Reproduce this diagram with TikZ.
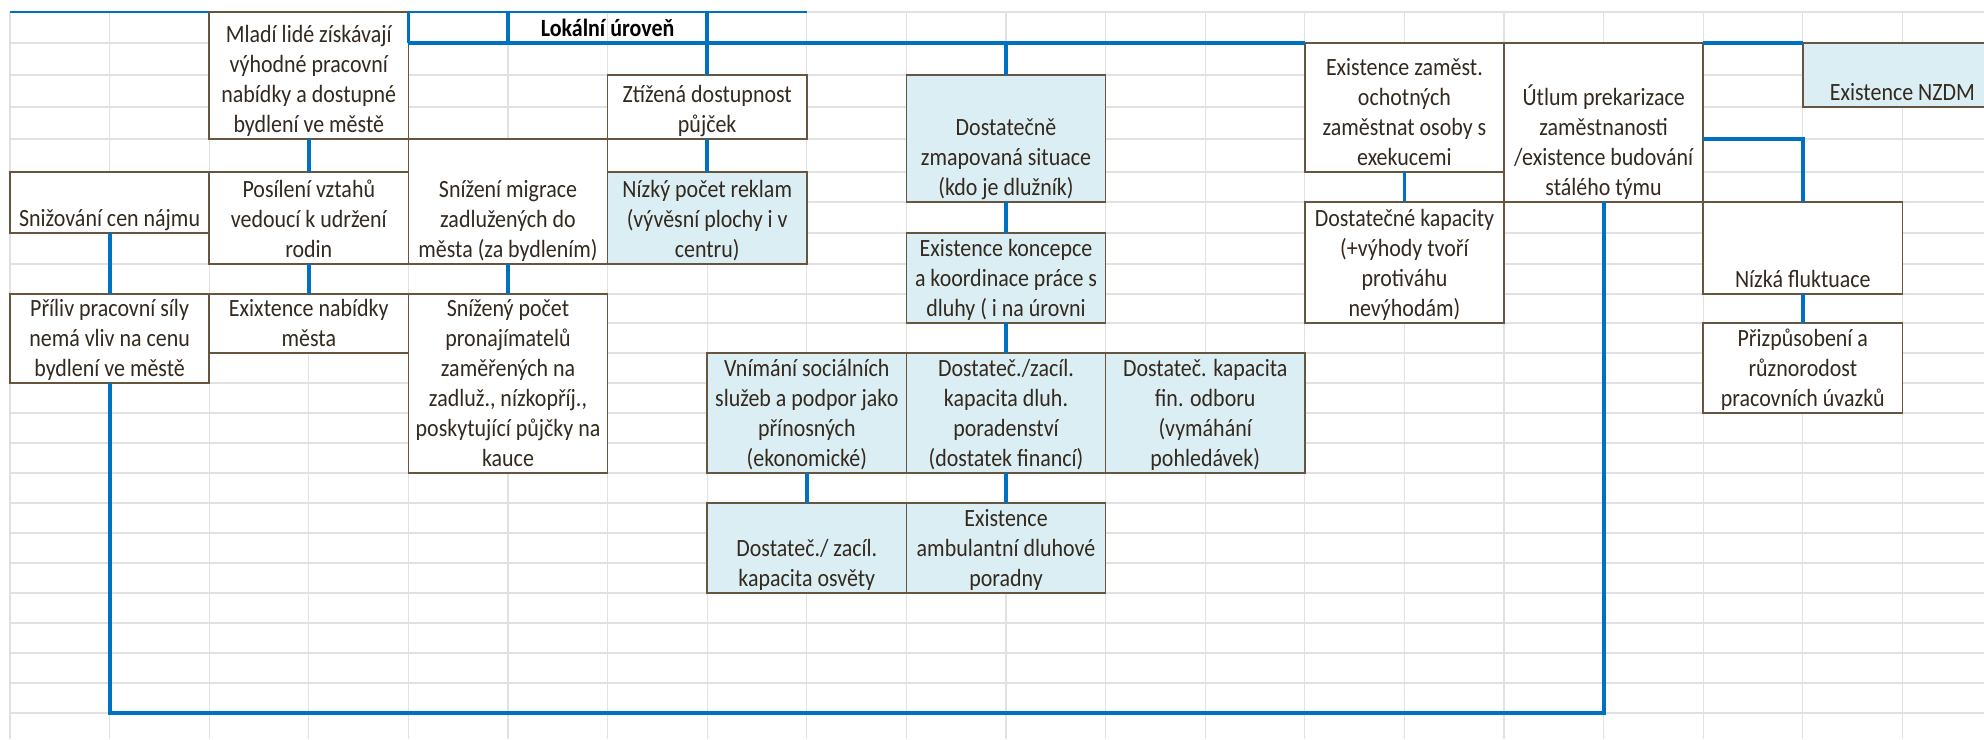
\documentclass[tikz,border=0pt]{standalone}
\usepackage{fontspec}
\setmainfont{Carlito}[FakeStretch=0.885]
\usetikzlibrary{fit}
\definecolor{lblue}{HTML}{DAEEF3}
\definecolor{bordc}{HTML}{66563F}
\definecolor{connc}{HTML}{0070C0}
\definecolor{gridc}{HTML}{E1E1E1}
\definecolor{txtc}{HTML}{33291F}
\newcommand\lastline{\rule[-3pt]{0pt}{0pt}}
\begin{document}
\begin{tikzpicture}[x=0.5pt,y=-0.5pt,
  cellbox/.style={draw=bordc, line width=0.75pt, fill=white, inner sep=0pt, outer sep=0pt},
  bluebox/.style={cellbox, fill=lblue},
  txt/.style={font=\fontsize{12.4}{15}\selectfont, text=txtc, align=center, inner sep=0pt, anchor=south},
  conn/.style={draw=connc, line width=1.9pt, line join=miter},
  thinconn/.style={draw=connc, line width=1.2pt},
  gridline/.style={draw=gridc, line width=0.6pt}]
\useasboundingbox (0,0) rectangle (1984,739);
\clip (0,0) rectangle (1984,739);
\fill[white] (0,0) rectangle (1984,739);
\foreach \c in {0,...,20}{
  \foreach \r [count=\i from 0] in {12,43,75,107,139,172,202,233,264,294,323,353,383,413,443,473,503,533,563,593,623,653,683,713}{
    \coordinate (g-\c-\i) at ({10+99.6*\c},\r);
  }
}
% grid
\foreach \c in {0,...,19} \draw[gridline] ({10+99.6*\c},12) -- ({10+99.6*\c},739);
\foreach \r in {12,43,75,107,139,172,202,233,264,294,323,353,383,413,443,473,503,533,563,593,623,653,683,713}
  \draw[gridline] (10,\r) -- (1984,\r);

% boxes
\node[cellbox, fit=(g-2-0)(g-4-4)] (mladi) {};
\node[cellbox, fit=(g-6-2)(g-8-4)] (ztizena) {};
\node[cellbox, fit=(g-0-5)(g-2-7)] (snizovani) {};
\node[cellbox, fit=(g-2-5)(g-4-8)] (posileni) {};
\node[cellbox, fit=(g-4-4)(g-6-8)] (migrace) {};
\node[bluebox, fit=(g-6-5)(g-8-8)] (reklam) {};
\node[cellbox, fit=(g-0-9)(g-2-12)] (priliv) {};
\node[cellbox, fit=(g-2-9)(g-4-11)] (exixtence) {};
\node[cellbox, fit=(g-4-9)(g-6-15)] (snizeny) {};
\node[bluebox, fit=(g-9-2)(g-11-6)] (mapovana) {};
\node[bluebox, fit=(g-9-7)(g-11-10)] (koncepce) {};
\node[bluebox, fit=(g-7-11)(g-9-15)] (vnimani) {};
\node[bluebox, fit=(g-9-11)(g-11-15)] (poradenstvi) {};
\node[bluebox, fit=(g-11-11)(g-13-15)] (odbor) {};
\node[bluebox, fit=(g-7-16)(g-9-19)] (osveta) {};
\node[bluebox, fit=(g-9-16)(g-11-19)] (ambulantni) {};
\node[cellbox, fit=(g-13-1)(g-15-5)] (zamest) {};
\node[cellbox, fit=(g-13-6)(g-15-10)] (kapacity) {};
\node[cellbox, fit=(g-15-1)(g-17-6)] (utlum) {};
\node[bluebox, fit=(g-18-1)(g-20-3)] (nzdm) {};
\node[cellbox, fit=(g-17-6)(g-19-9)] (fluktuace) {};
\node[cellbox, fit=(g-17-10)(g-19-13)] (prizpusobeni) {};

% texts
\node[txt] (t-mladi) at (mladi.south) {Mladí lidé získávají\\výhodné pracovní\\nabídky a dostupné\\bydlení ve městě\lastline};
\node[txt, font=\fontsize{12.4}{15}\selectfont\bfseries, text=black] (lok) at (g-6-1) {Lokální úroveň\lastline};
\node[txt] (t-ztizena) at (ztizena.south) {Ztížená dostupnost\\půjček\lastline};
\node[txt] (t-snizovani) at (snizovani.south) {Snižování cen nájmu\lastline};
\node[txt] (t-posileni) at (posileni.south) {Posílení vztahů\\vedoucí k udržení\\rodin\lastline};
\node[txt] (t-migrace) at (migrace.south) {Snížení migrace\\zadlužených do\\města (za bydlením)\lastline};
\node[txt] (t-reklam) at (reklam.south) {Nízký počet reklam\\(vývěsní plochy i v\\centru)\lastline};
\node[txt] (t-priliv) at (priliv.south) {Příliv pracovní síly\\nemá vliv na cenu\\bydlení ve městě\lastline};
\node[txt] (t-exixtence) at (exixtence.south) {Exixtence nabídky\\města\lastline};
\node[txt] (t-snizeny) at (snizeny.south) {Snížený počet\\pronajímatelů\\zaměřených na\\zadluž., nízkopříj.,\\poskytující půjčky na\\kauce\lastline};
\node[txt] (t-mapovana) at (mapovana.south) {Dostatečně\\zmapovaná situace\\(kdo je dlužník)\lastline};
\node[txt] (t-koncepce) at (koncepce.south) {Existence koncepce\\a koordinace práce s\\dluhy ( i na úrovni\lastline};
\node[txt] (t-vnimani) at (vnimani.south) {Vnímání sociálních\\služeb a podpor jako\\přínosných\\(ekonomické)\lastline};
\node[txt] (t-poradenstvi) at (poradenstvi.south) {Dostateč./zacíl.\\kapacita dluh.\\poradenství\\(dostatek financí)\lastline};
\node[txt] (t-odbor) at (odbor.south) {Dostateč. kapacita\\fin. odboru\\(vymáhání\\pohledávek)\lastline};
\node[txt] (t-osveta) at (osveta.south) {Dostateč./ zacíl.\\kapacita osvěty\lastline};
\node[txt] (t-ambulantni) at (ambulantni.south) {Existence\\ambulantní dluhové\\poradny\lastline};
\node[txt] (t-zamest) at (zamest.south) {Existence zaměst.\\ochotných\\zaměstnat osoby s\\exekucemi\lastline};
\node[txt] (t-kapacity) at (kapacity.south) {Dostatečné kapacity\\(+výhody tvoří\\protiváhu\\nevýhodám)\lastline};
\node[txt] (t-utlum) at (utlum.south) {Útlum prekarizace\\zaměstnanosti\\/existence budování\\stálého týmu\lastline};
\node[txt] (t-nzdm) at (g-19-3) {Existence NZDM\lastline};
\node[txt] (t-fluktuace) at (fluktuace.south) {Nízká fluktuace\lastline};
\node[txt] (t-prizpusobeni) at (prizpusobeni.south) {Přizpůsobení a\\různorodost\\pracovních úvazků\lastline};

% connectors
\draw[thinconn] (g-0-0) -- (g-2-0);
\draw[thinconn] (g-4-0) -- (g-8-0);
\draw[conn] (g-4-0) -- (g-4-1);
\draw[conn] (g-5-0) -- (g-5-1);
\draw[conn] (g-7-0) -- (ztizena.north);
\draw[conn] (g-4-1) -- (zamest.north west);
\draw[conn] (g-10-1) -- (mapovana.north);
\draw[conn] (mladi.south) -- (posileni.north);
\draw[conn] (snizovani.south) -- (priliv.north);
\draw[conn] (posileni.south) -- (exixtence.north);
\draw[conn] (migrace.south) -- (snizeny.north);
\draw[conn] (ztizena.south) -- (reklam.north);
\draw[conn] (mapovana.south) -- (koncepce.north);
\draw[conn] (koncepce.south) -- (poradenstvi.north);
\draw[conn] (vnimani.south) -- (osveta.north);
\draw[conn] (poradenstvi.south) -- (ambulantni.north);
\draw[conn] (zamest.south) -- (kapacity.north);
\draw[conn] (utlum.north east) -- (nzdm.north west);
\draw[conn] (g-17-4) -- (g-18-4) -- (fluktuace.north);
\draw[conn] (fluktuace.south) -- (prizpusobeni.north);
\draw[conn] (utlum.south) -- (g-16-23) -- (g-1-23) -- (priliv.south);
\end{tikzpicture}
\end{document}
